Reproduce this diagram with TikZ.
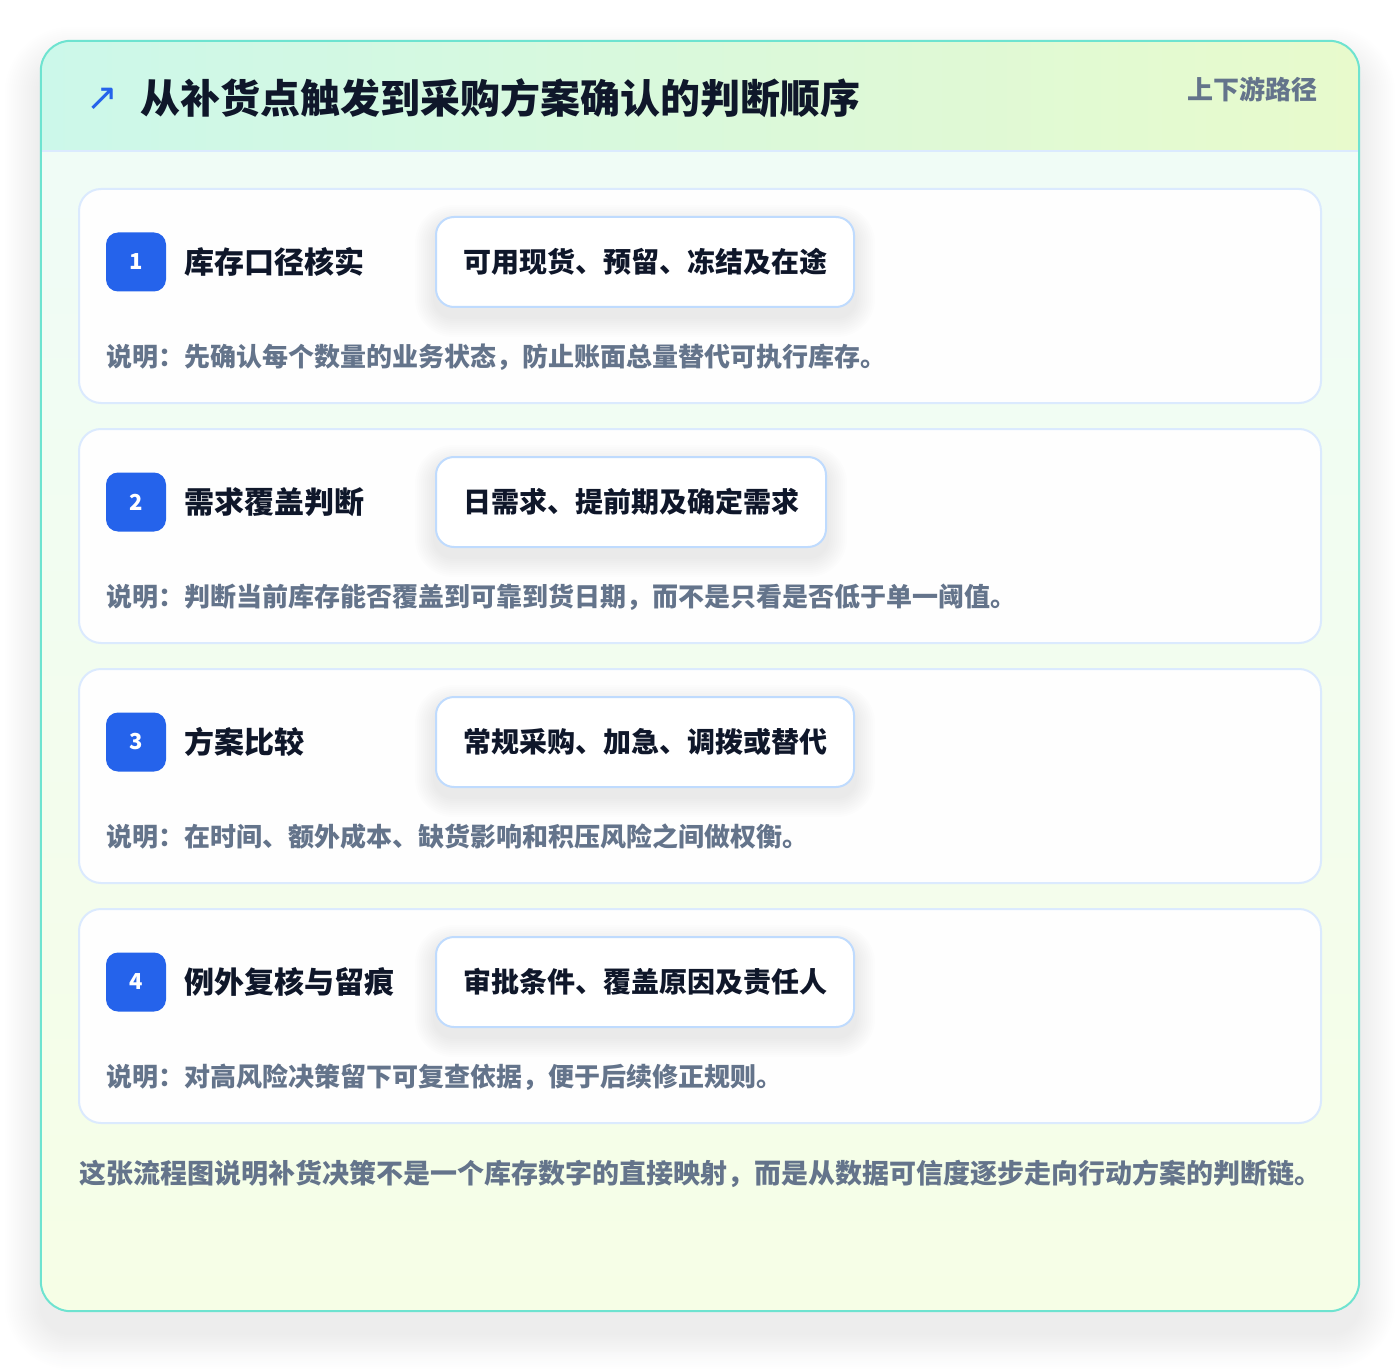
\documentclass[tikz,border=0pt]{standalone}
\usepackage{fontspec}
\setmainfont{Noto Sans CJK SC}
\newfontfamily\symfont{DejaVu Sans}
\usetikzlibrary{calc}
\pgfdeclarelayer{back}
\pgfdeclarelayer{front}
\pgfsetlayers{back,main,front}
\definecolor{frameline}{HTML}{6EE3D0}
\definecolor{headL}{HTML}{CCF8EA}
\definecolor{headR}{HTML}{E8FACC}
\definecolor{bodyT}{HTML}{EFFCF8}
\definecolor{bodyB}{HTML}{F6FEE6}
\definecolor{cardline}{HTML}{DBEAFE}
\definecolor{pillline}{HTML}{BFDBFE}
\definecolor{accent}{HTML}{2563EB}
\definecolor{ink}{HTML}{0F172A}
\definecolor{muted}{HTML}{64748B}
\definecolor{shadowc}{HTML}{1E293B}
\tikzset{
  fs/.style={font=\fontsize{#1}{#1}\selectfont\bfseries},
  framebox/.style={rectangle, rounded corners=30pt, minimum width=1318pt, minimum height=1270pt,
    top color=bodyT, bottom color=bodyB, inner sep=0pt},
  cardbox/.style={rectangle, rounded corners=22pt, minimum width=1242pt, minimum height=214pt,
    fill=white, fill opacity=0.96, text opacity=1, draw=cardline, line width=2pt, inner sep=0pt},
  badgebox/.style={rectangle, rounded corners=12pt, minimum width=60pt, minimum height=59pt,
    fill=accent, text=white, fs=22, inner sep=0pt},
  steplabel/.style={anchor=west, text=ink, fs=30, inner sep=0pt},
  pillbox/.style={anchor=west, rectangle, rounded corners=18pt, minimum height=90pt, inner xsep=27pt,
    fill=white, draw=pillline, line width=2pt, text=ink, fs=28},
  desctext/.style={anchor=west, text=muted, fs=26, inner sep=0pt},
  softshadow/.style={fill=shadowc, fill opacity=#1, draw=none},
}
\begin{document}
\begin{tikzpicture}[x=1pt,y=-1pt]
\begin{pgfonlayer}{back}
  \useasboundingbox[fill=white] (0,0) rectangle (1400,1352);
\end{pgfonlayer}
\node[framebox] (frame) at (700,676) {};
% soft outer shadow
\begin{pgfonlayer}{back}
  \foreach \k in {2,4,...,36}{
    \fill[softshadow=0.0035, rounded corners=30pt+\k pt]
      ($(frame.north west)+(-\k,-\k+22)$) rectangle ($(frame.south east)+(\k,\k+22)$);
  }
\end{pgfonlayer}
\begin{scope}
  \clip[rounded corners=30pt] (41,41) rectangle (1359,1311);
  \shade[left color=headL, right color=headR] (41,41) rectangle (1359,151);
\end{scope}
\draw[cardline, line width=2pt] (42,151) -- (1358,151);
\draw[frameline, line width=2pt, rounded corners=30pt] (frame.north west) rectangle (frame.south east);
\node[anchor=center, text=accent, font=\symfont\fontsize{38}{38}\selectfont, inner sep=0pt] (icon) at (102,99) {↗};
\node[anchor=west, text=ink, fs=40, inner sep=0pt] (title) at (140,98) {从补货点触发到采购方案确认的判断顺序};
\node[anchor=east, text=muted, fs=26, inner sep=0pt] (tag) at (1318,89) {上下游路径};
\foreach \i/\lab/\pill/\desc in {
  0/库存口径核实/{可用现货、预留、冻结及在途}/{说明：先确认每个数量的业务状态，防止账面总量替代可执行库存。},
  1/需求覆盖判断/{日需求、提前期及确定需求}/{说明：判断当前库存能否覆盖到可靠到货日期，而不是只看是否低于单一阈值。},
  2/方案比较/{常规采购、加急、调拨或替代}/{说明：在时间、额外成本、缺货影响和积压风险之间做权衡。},
  3/例外复核与留痕/{审批条件、覆盖原因及责任人}/{说明：对高风险决策留下可复查依据，便于后续修正规则。}}
{
  \pgfmathsetmacro{\yy}{189+240*\i}
  \pgfmathtruncatemacro{\n}{\i+1}
  \node[cardbox] (card\n) at (700,\yy+107) {};
  \node[badgebox] (badge\n) at (136,\yy+73) {\n};
  \node[steplabel] (label\n) at (184,\yy+73) {\lab};
  \begin{pgfonlayer}{front}
    \node[pillbox] (pill\n) at (435,\yy+73) {\pill};
  \end{pgfonlayer}
  \foreach \k in {2,4,...,20}{
    \fill[softshadow=0.007, rounded corners=18pt+\k pt]
      ($(pill\n.north west)+(-\k,-\k+9)$) rectangle ($(pill\n.south east)+(\k,\k+9)$);
  }
  \node[desctext] (desc\n) at (106,\yy+168) {\desc};
}
\node[anchor=west, text=muted, fs=27, inner sep=0pt] (footer) at (79,1174) {这张流程图说明补货决策不是一个库存数字的直接映射，而是从数据可信度逐步走向行动方案的判断链。};
\end{tikzpicture}
\end{document}
